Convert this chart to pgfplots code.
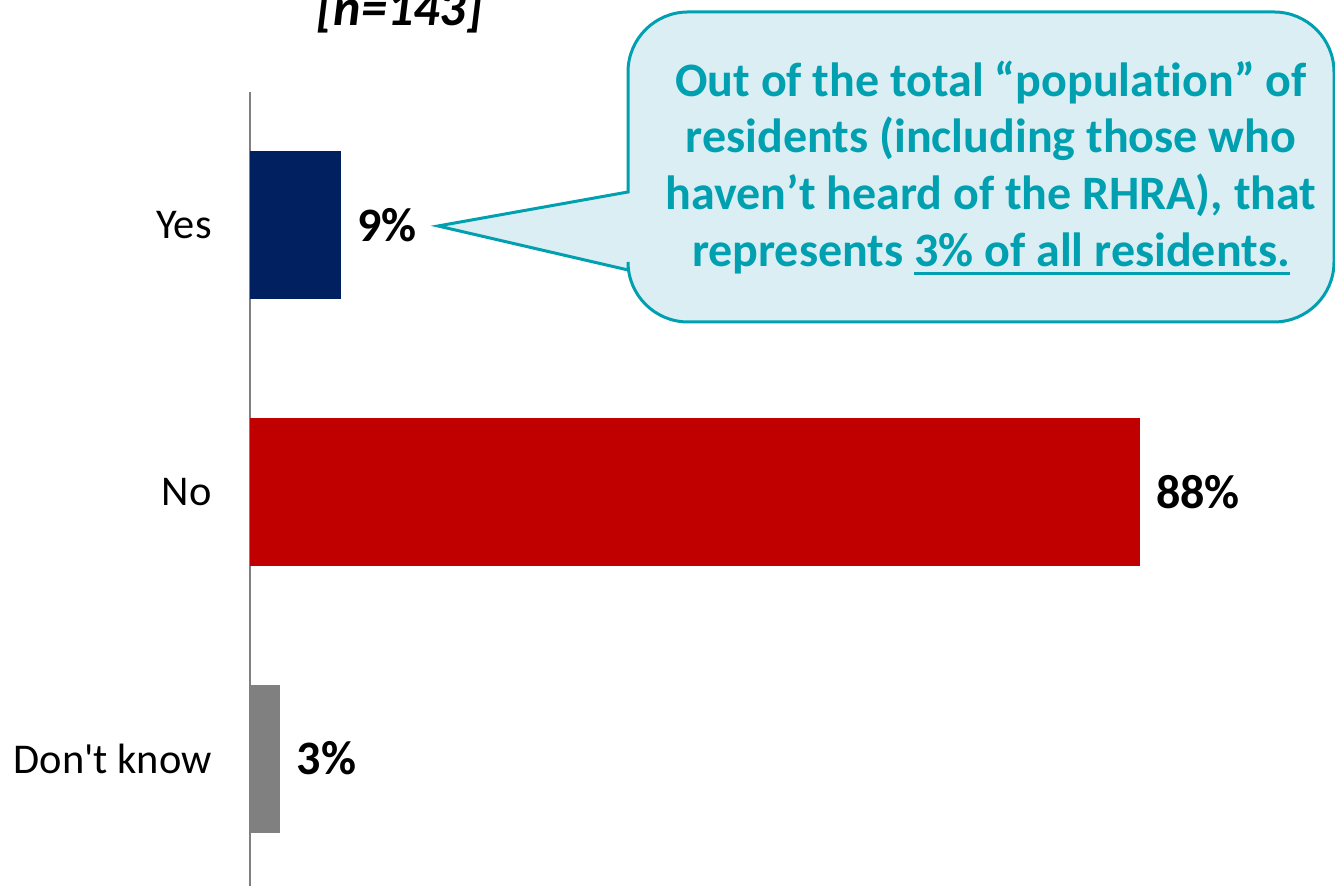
\documentclass[border=0pt]{standalone}
\usepackage{pgfplots}
\pgfplotsset{compat=1.18}
\usepackage{fontspec}
\setmainfont{Carlito}[Ligatures={TeX,NoCommon}]
\definecolor{navy}{HTML}{002060}
\definecolor{barred}{HTML}{C00000}
\definecolor{bargray}{HTML}{808080}
\definecolor{calltext}{HTML}{00A0B0}
\definecolor{callfill}{HTML}{DAEEF3}
\newcommand\ul[1]{\setbox0\hbox{#1}\rlap{\rule[-4pt]{\wd0}{1.4pt}}\box0}
\begin{document}
\begin{tikzpicture}
\useasboundingbox (0,0) rectangle (667.5pt,443pt);
\clip (0,0) rectangle (667.5pt,443pt);
\begin{pgfinterruptboundingbox}
\begin{axis}[
  at={(125pt,0pt)}, anchor=south west,
  scale only axis, width=505.5pt, height=397pt,
  xmin=0, xmax=100, ymin=-0.4775, ymax=2.5,
  axis x line=none, axis y line*=left,
  y axis line style={draw=bargray, line width=1pt, -},
  ytick={0,1,2}, yticklabels={Don\textquotesingle t know, No, Yes},
  major tick length=0pt,
  yticklabel style={font=\fontsize{21.2}{25}\selectfont, inner sep=0pt, xshift=-19pt},
  xbar, bar width=74pt, bar shift=0pt,
  point meta=x,
  nodes near coords={\pgfmathprintnumber{\pgfplotspointmeta}\%},
  nodes near coords style={anchor=west, inner sep=0pt, xshift=8pt, font=\bfseries\fontsize{24}{28}\selectfont},
  /pgf/number format/assume math mode=true,
  clip=false,
]
\addplot[fill=navy, draw=none] coordinates {(9,2)};
\addplot[fill=barred, draw=none] coordinates {(88,1)};
\addplot[fill=bargray, draw=none] coordinates {(3,0)};
\end{axis}
\begin{scope}[x=0.5pt,y=0.5pt]
% callout
\draw[draw=calltext, line width=1.5pt, fill=callfill]
  (628,616) -- (438,660) -- (628,694) -- (628,814)
  arc[start angle=180, end angle=90, radius=60] -- (1274,874)
  arc[start angle=90, end angle=0, radius=60] -- (1334,624)
  arc[start angle=0, end angle=-90, radius=60] -- (688,564)
  arc[start angle=-90, end angle=-180, radius=60] -- cycle;
\begin{scope}[every node/.style={anchor=base, text=calltext, inner sep=0pt, font=\bfseries\fontsize{24}{28}\selectfont}]
\node at (991,789) {Out of the total “population” of};
\node at (991,733) {residents (including those who};
\node at (991,676) {haven't heard of the RHRA), that};
\node at (991,619) {represents \ul{3\% of all residents.}};
\end{scope}
\node[anchor=base, inner sep=0pt, font=\bfseries\itshape\fontsize{26}{30}\selectfont] at (400,860) {[n=143]};
\end{scope}
\end{pgfinterruptboundingbox}
\end{tikzpicture}
\end{document}
